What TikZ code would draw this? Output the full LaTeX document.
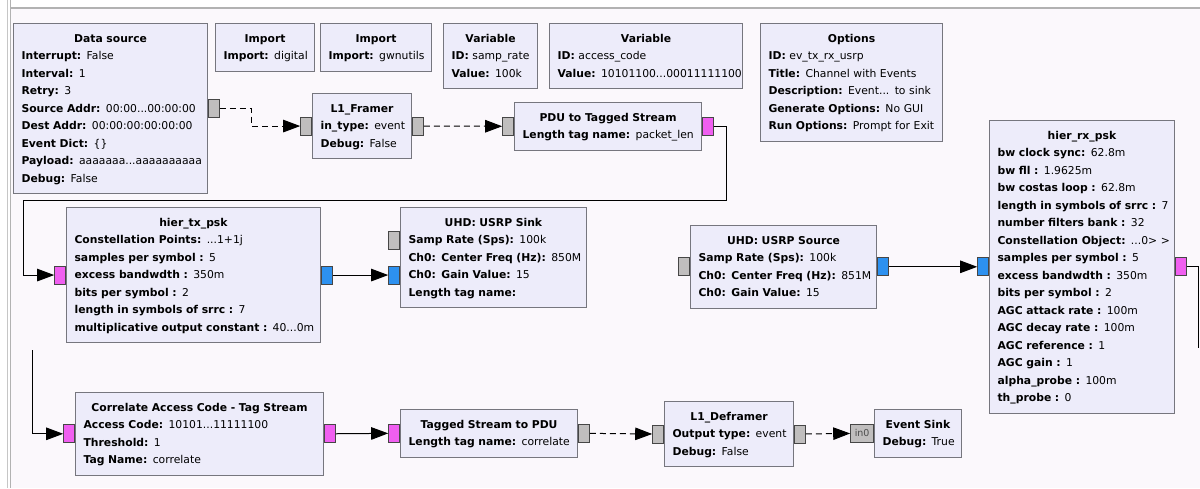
\documentclass[tikz,border=0pt]{standalone}
\usepackage{fontspec}
\setmainfont{DejaVu Sans}
\usetikzlibrary{arrows.meta, positioning}

\definecolor{canvas}{RGB}{251,248,252}
\definecolor{blockbg}{RGB}{237,236,250}
\definecolor{blockline}{RGB}{118,118,126}
\definecolor{msgport}{RGB}{192,190,190}
\definecolor{byteport}{RGB}{240,95,240}
\definecolor{cplxport}{RGB}{45,145,240}

\newcommand{\hd}[1]{{\centering\strut\textbf{#1}\par}}
\newcommand{\kv}[2]{\mbox{\strut\textbf{#1} #2}}

\tikzset{
  block/.style={draw=blockline, fill=blockbg, line width=1.1pt, anchor=north west,
    align=left, inner xsep=8pt, inner ysep=6.25pt,
    font=\fontsize{10.8}{17.5}\selectfont},
  port/.style={draw=gray!55!black, line width=0.8pt, minimum width=11pt,
    minimum height=18pt, inner sep=0pt},
  link/.style={line width=1pt, -{Triangle[length=17pt,width=12.5pt]}},
  msg/.style={link, dash pattern=on 6pt off 4pt},
}

\begin{document}
\begin{tikzpicture}[x=1pt, y=-1pt]
    \useasboundingbox (0,0) rectangle (1200,488);
    \fill[white] (0,0) rectangle (1200,488);
    \fill[canvas] (11,8) rectangle (1200,488);
    \draw[gray!60, line width=1.2pt] (11,8) -- (1200,8);
    \draw[gray!45] (7,0) -- (7,488);
    \draw[gray!60] (10.5,0) -- (10.5,488);

    % top row
    \node[block, text width=178pt] (ds) at (13,23) {\hd{Data source}
      \kv{Interrupt:}{False}\\ \kv{Interval:}{1}\\ \kv{Retry:}{3}\\
      \kv{Source Addr:}{00:00...00:00:00}\\ \kv{Dest Addr:}{00:00:00:00:00:00}\\
      \kv{Event Dict:}{\{\}}\\ \kv{Payload:}{aaaaaaa...aaaaaaaaaa}\\ \kv{Debug:}{False}};
    \node[block, text width=83pt] (imp1) at (215,23) {\hd{Import}\kv{Import:}{digital}};
    \node[block, text width=95pt] (imp2) at (320,23) {\hd{Import}\kv{Import:}{gwnutils}};
    \node[block, text width=78pt] (var1) at (443,23) {\hd{Variable}
      \kv{ID:}{samp\_rate}\\ \kv{Value:}{100k}};
    \node[block, text width=177pt] (var2) at (549,23) {\hd{Variable}
      \kv{ID:}{access\_code}\\ \kv{Value:}{10101100...00011111100}};
    \node[block, text width=166pt] (opts) at (760,23) {\hd{Options}
      \kv{ID:}{ev\_tx\_rx\_usrp}\\ \kv{Title:}{Channel with Events}\\
      \kv{Description:}{Event... to sink}\\ \kv{Generate Options:}{No GUI}\\
      \kv{Run Options:}{Prompt for Exit}};
    \node[block, text width=83pt] (framer) at (312,93) {\hd{L1\_Framer}
      \kv{in\_type:}{event}\\ \kv{Debug:}{False}};
    \node[block, text width=171pt] (pdu) at (514,102) {\hd{PDU to Tagged Stream}
      \kv{Length tag name:}{packet\_len}};

    % middle row
    \node[block, text width=238pt] (tx) at (66,207) {\hd{hier\_tx\_psk}
      \kv{Constellation Points:}{...1+1j}\\ \kv{samples per symbol :}{5}\\
      \kv{excess bandwdth :}{350m}\\ \kv{bits per symbol :}{2}\\
      \kv{length in symbols of srrc :}{7}\\ \kv{multiplicative output constant :}{40...0m}};
    \node[block, text width=170pt] (sink) at (400,207) {\hd{UHD: USRP Sink}
      \kv{Samp Rate (Sps):}{100k}\\ \kv{Ch0: Center Freq (Hz):}{850M}\\
      \kv{Ch0: Gain Value:}{15}\\ \kv{Length tag name:}{}};
    \node[block, text width=170pt] (src) at (690,225) {\hd{UHD: USRP Source}
      \kv{Samp Rate (Sps):}{100k}\\ \kv{Ch0: Center Freq (Hz):}{851M}\\
      \kv{Ch0: Gain Value:}{15}};
    \node[block, text width=169pt] (rx) at (989,120) {\hd{hier\_rx\_psk}
      \kv{bw clock sync:}{62.8m}\\ \kv{bw fll :}{1.9625m}\\ \kv{bw costas loop :}{62.8m}\\
      \kv{length in symbols of srrc :}{7}\\ \kv{number filters bank :}{32}\\
      \kv{Constellation Object:}{...0> >}\\ \kv{samples per symbol :}{5}\\
      \kv{excess bandwdth :}{350m}\\ \kv{bits per symbol :}{2}\\
      \kv{AGC attack rate :}{100m}\\ \kv{AGC decay rate :}{100m}\\
      \kv{AGC reference :}{1}\\ \kv{AGC gain :}{1}\\
      \kv{alpha\_probe :}{100m}\\ \kv{th\_probe :}{0}};

    % bottom row
    \node[block, text width=232pt] (corr) at (75,392) {\hd{Correlate Access Code - Tag Stream}
      \kv{Access Code:}{10101...11111100}\\ \kv{Threshold:}{1}\\ \kv{Tag Name:}{correlate}};
    \node[block, text width=161pt] (ts) at (400,409) {\hd{Tagged Stream to PDU}
      \kv{Length tag name:}{correlate}};
    \node[block, text width=113pt] (def) at (664,401) {\hd{L1\_Deframer}
      \kv{Output type:}{event}\\ \kv{Debug:}{False}};
    \node[block, text width=71pt] (ev) at (874,409) {\hd{Event Sink}
      \kv{Debug:}{True}};

    % ports
    \node[port, fill=msgport, anchor=west] (ds_out) at (ds.east) {};
    \node[port, fill=msgport, anchor=east] (framer_in) at (framer.west) {};
    \node[port, fill=msgport, anchor=west] (framer_out) at (framer.east) {};
    \node[port, fill=msgport, anchor=east] (pdu_in) at (pdu.west) {};
    \node[port, fill=byteport, anchor=west] (pdu_out) at (pdu.east) {};
    \node[port, fill=byteport, anchor=east] (tx_in) at (tx.west) {};
    \node[port, fill=cplxport, anchor=west] (tx_out) at (tx.east) {};
    \node[port, fill=msgport, anchor=east] (sink_in0) at ([yshift=17.5pt]sink.west) {};
    \node[port, fill=cplxport, anchor=east] (sink_in1) at ([yshift=-17.5pt]sink.west) {};
    \node[port, fill=msgport, anchor=east] (src_in) at (src.west) {};
    \node[port, fill=cplxport, anchor=west] (src_out) at (src.east) {};
    \node[port, fill=cplxport, anchor=east] (rx_in) at (rx.west) {};
    \node[port, fill=byteport, anchor=west] (rx_out) at (rx.east) {};
    \node[port, fill=byteport, anchor=east] (corr_in) at (corr.west) {};
    \node[port, fill=byteport, anchor=west] (corr_out) at (corr.east) {};
    \node[port, fill=byteport, anchor=east] (ts_in) at (ts.west) {};
    \node[port, fill=msgport, anchor=west] (ts_out) at (ts.east) {};
    \node[port, fill=msgport, anchor=east] (def_in) at (def.west) {};
    \node[port, fill=msgport, anchor=west] (def_out) at (def.east) {};
    \node[port, fill=msgport, anchor=east, minimum width=23pt, text=black!70,
      font=\fontsize{9.5}{10}\selectfont] (ev_in) at (ev.west) {in0};

    \coordinate (wrap_tx) at (23,200);
    \coordinate (rx_cut) at (1198,348);
    \coordinate (corr_feed) at (32,350);

    % connections
    \draw[msg] (ds_out.east) -- ++(32,0) |- (framer_in);
    \draw[msg] (framer_out) -- (pdu_in);
    \draw[link] (pdu_out.east) -- ++(13,0) |- (wrap_tx) |- (tx_in);
    \draw[link] (tx_out) -- (sink_in1);
    \draw[link] (src_out) -- (rx_in);
    \draw[line width=1pt] (rx_out.east) -| (rx_cut);
    \draw[link] (corr_feed) |- (corr_in);
    \draw[link] (corr_out) -- (ts_in);
    \draw[msg] (ts_out) -- (def_in);
    \draw[msg] (def_out) -- (ev_in);
\end{tikzpicture}
\end{document}
